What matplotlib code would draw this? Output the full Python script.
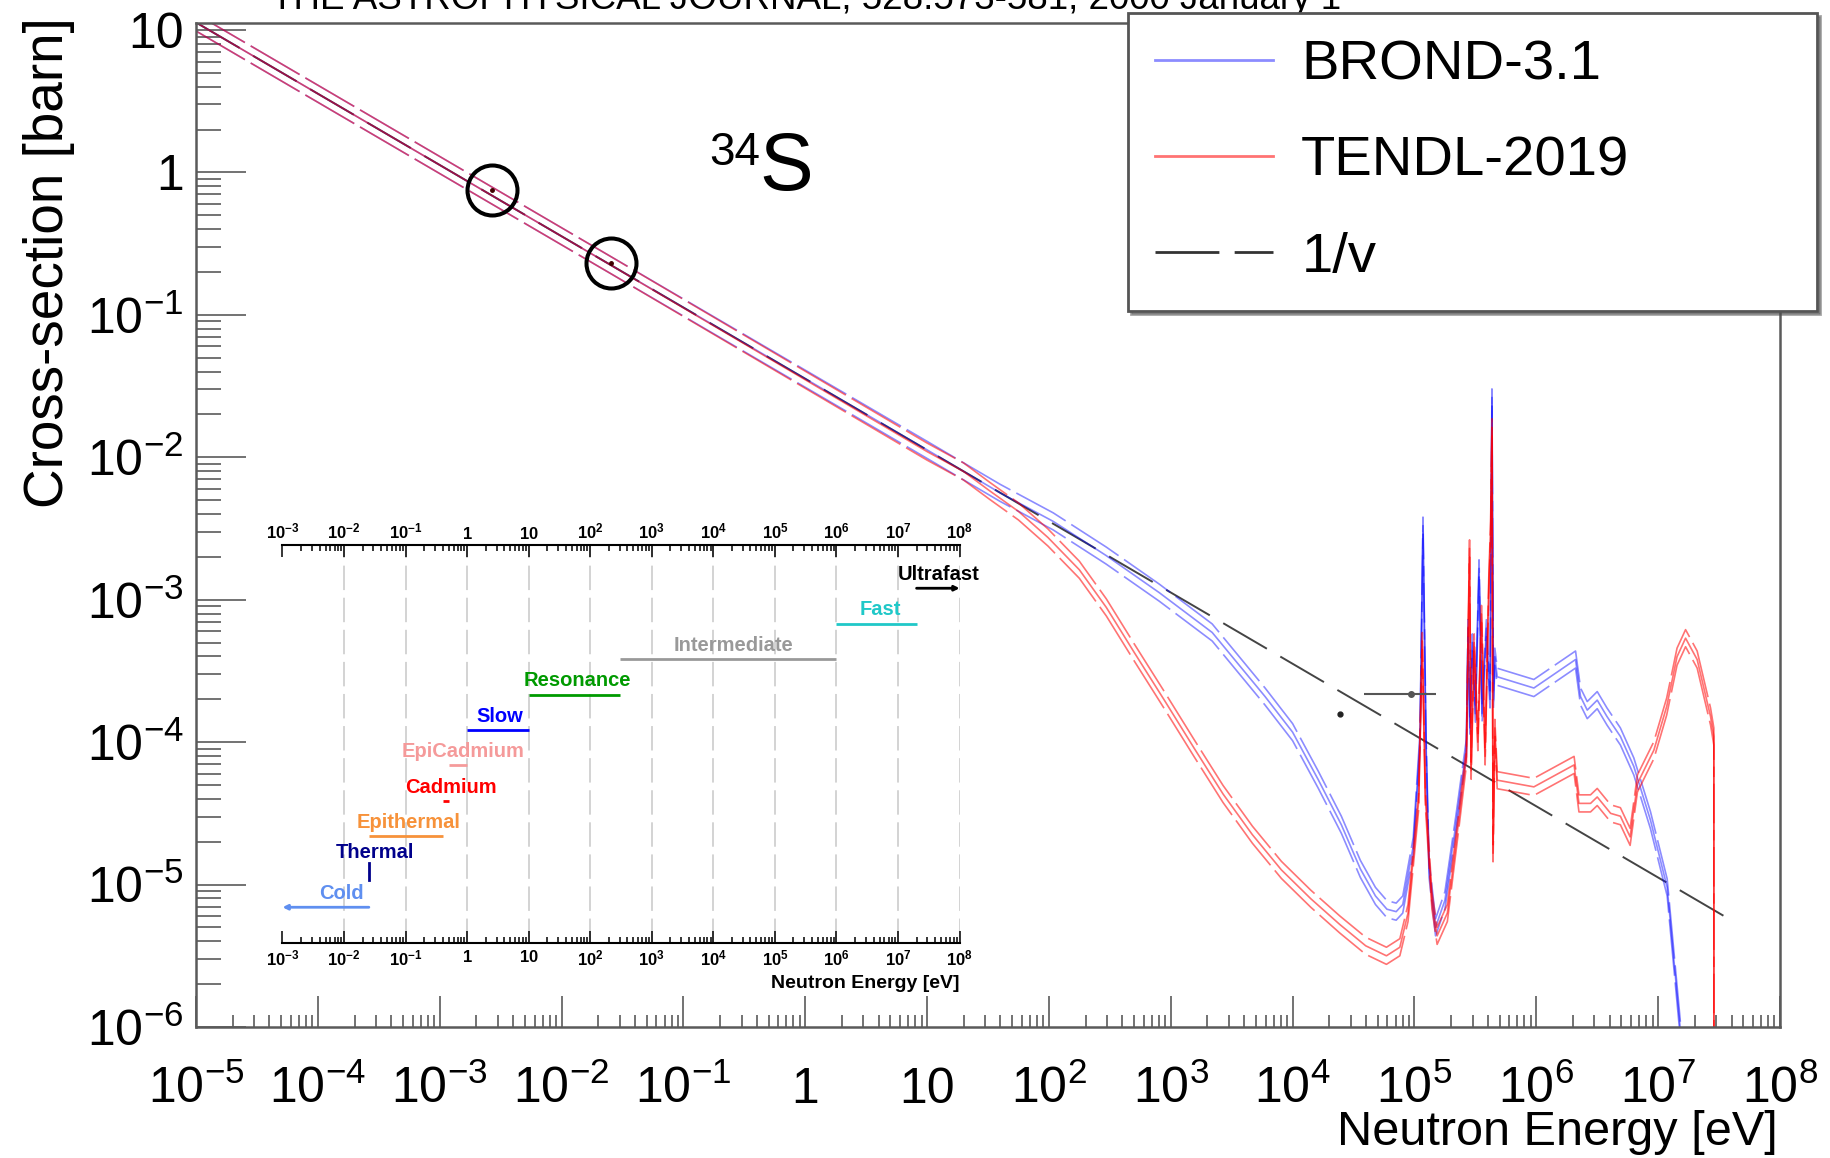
import numpy as np
import matplotlib
matplotlib.use("Agg")
import matplotlib.pyplot as plt
from matplotlib.lines import Line2D
from matplotlib.ticker import LogLocator, FuncFormatter, NullFormatter

plt.rcParams['font.family'] = ['Liberation Sans', 'DejaVu Sans']
plt.rcParams['mathtext.fontset'] = 'custom'
plt.rcParams['mathtext.rm'] = 'Liberation Sans'
plt.rcParams['mathtext.it'] = 'Liberation Sans:italic'
plt.rcParams['mathtext.bf'] = 'Liberation Sans:bold'
plt.rcParams['mathtext.sf'] = 'Liberation Sans'

brond_logE = [-5.0, -1.597, 1.0, 1.6, 2.035, 2.47, 2.905, 3.34, 3.774, 4.0, 4.21, 4.4,
              4.556, 4.68, 4.774, 4.85, 4.904, 4.99, 5.045, 5.07, 5.095, 5.12, 5.173,
              5.25, 5.34, 5.426, 5.44, 5.455, 5.475, 5.50, 5.53, 5.555, 5.59, 5.62,
              5.636, 5.648, 5.66, 5.679, 5.98, 6.322, 6.363, 6.418, 6.50, 6.58, 6.69,
              6.80, 6.937, 7.074, 7.18, 7.22]
brond_logxs = [1.053, -0.65, -1.948, -2.25, -2.45, -2.69, -2.95, -3.23, -3.68, -3.93,
               -4.263, -4.58, -4.89, -5.08, -5.173, -5.19, -5.14, -4.73, -4.0, -2.48,
               -4.0, -4.89, -5.30, -5.11, -4.576, -4.04, -3.2, -3.9, -3.3, -3.8, -2.78,
               -3.8, -3.2, -3.7, -1.58, -3.7, -3.4, -3.541, -3.62, -3.42, -3.68, -3.775,
               -3.705, -3.82, -3.96, -4.17, -4.548, -5.02, -6.0, -6.5]

tendl_logE = [-5.0, -1.597, 1.0, 1.3, 1.513, 1.75, 1.992, 2.25, 2.471, 2.70, 2.95, 3.19,
              3.429, 3.67, 3.908, 4.15, 4.387, 4.6, 4.77, 4.88, 4.947, 5.034, 5.064, 5.09,
              5.143, 5.186, 5.27, 5.36, 5.426, 5.44, 5.452, 5.465, 5.49, 5.52, 5.55,
              5.58, 5.61, 5.625, 5.636, 5.645, 5.66, 5.679, 5.98, 6.31, 6.35, 6.445,
              6.50, 6.61, 6.69, 6.77, 6.83, 6.965, 7.07, 7.155, 7.225, 7.32, 7.43,
              7.457, 7.458]
tendl_logxs = [1.053, -0.65, -1.96, -2.10, -2.235, -2.38, -2.563, -2.79, -3.054, -3.37,
               -3.709, -4.04, -4.364, -4.65, -4.897, -5.10, -5.28, -5.43, -5.50, -5.44,
               -5.20, -4.42, -3.29, -4.4, -5.11, -5.36, -5.20, -4.576, -4.105, -3.3,
               -2.64, -4.2, -3.3, -4.0, -3.1, -4.1, -2.9, -2.51, -1.79, -4.78, -3.9,
               -4.267, -4.314, -4.16, -4.43, -4.43, -4.385, -4.50, -4.52, -4.665, -4.29,
               -4.056, -3.75, -3.40, -3.27, -3.42, -3.82, -3.96, -7.0]

# half width of the uncertainty lines drawn above / below each curve (dex)
band_dex = 0.06

onev_energy = [1e-5, 4.0e7]
onev_xs = [11.3, 5.6e-6]

circle_energy = [2.68e-3, 0.0253]
circle_xs = [0.75, 0.23]

dot_energy = [2.44e4]
dot_xs = [1.58e-4]
bar_energy = [9.3e4]
bar_xs = [2.17e-4]
bar_elow = [3.84e4]
bar_ehigh = [1.49e5]

# inset: neutron energy classification
region_names = ['Cold', 'Thermal', 'Epithermal', 'Cadmium', 'EpiCadmium', 'Slow',
                'Resonance', 'Intermediate', 'Fast', 'Ultrafast']
region_lo = [1e-3, 0.0253, 0.0253, 0.4, 0.5, 1.0, 10.0, 300.0, 1e6, 2e7]
region_hi = [0.0253, 0.0253, 0.4, 0.5, 1.0, 10.0, 300.0, 1e6, 2e7, 1e8]
region_colors = ['#5f8ff0', '#00008b', '#f7923a', '#ff0000', '#f59a9a', '#0000ff',
                 '#009a00', '#999999', '#20c8c8', '#000000']
label_logx = [-2.04, -1.50, -0.955, -0.256, -0.072, 0.522, 1.793, 4.324, 6.71, 7.666]

W, H = 1830, 1158
fig = plt.figure(figsize=(W / 100, H / 100), dpi=100)
ax = fig.add_axes([196 / W, 1 - 1027 / H, (1780 - 196) / W, (1027 - 23) / H])
ax.set_xscale('log')
ax.set_yscale('log')
ax.set_xlim(1e-5, 1e8)
ax.set_ylim(1e-6, 11.2)

blue_c = (0.0, 0.0, 1.0, 0.45)
red_c = (1.0, 0.0, 0.0, 0.55)
for logE, logxs, col in [(brond_logE, brond_logxs, blue_c), (tendl_logE, tendl_logxs, red_c)]:
    e = 10.0 ** np.array(logE)
    xs = np.array(logxs)
    ax.plot(e, 10.0 ** xs, color=col, lw=1.2, zorder=2)
    ax.plot(e, 10.0 ** (xs + band_dex), color=col, lw=1.2, dashes=(34, 4), zorder=2)
    ax.plot(e, 10.0 ** (xs - band_dex), color=col, lw=1.2, dashes=(34, 4), zorder=2)

ax.plot(onev_energy, onev_xs, color='#444444', lw=1.4, dashes=(26, 8), zorder=1.5)

ax.plot(circle_energy, circle_xs, 'o', mfc='none', mec='black', ms=36, mew=2.9, zorder=4)
ax.plot(circle_energy, circle_xs, 'o', ms=2.5, color='#400000', zorder=4)
ax.plot(dot_energy, dot_xs, 'o', ms=3.5, color='#222222', zorder=4)
ax.errorbar(bar_energy, bar_xs,
            xerr=[np.array(bar_energy) - np.array(bar_elow), np.array(bar_ehigh) - np.array(bar_energy)],
            fmt='o', ms=4, color='#555555', lw=1.5, capsize=0, zorder=4)


def pow10_label(v, pos):
    p = int(round(np.log10(v)))
    if p == 0:
        return '1'
    if p == 1:
        return '10'
    return r'$10^{%d}$' % p


def pow10_bold(v, pos):
    p = int(round(np.log10(v)))
    if p == 0:
        return r'$\mathbf{1}$'
    if p == 1:
        return r'$\mathbf{10}$'
    return r'$\mathbf{10^{%d}}$' % p


for axis in (ax.xaxis, ax.yaxis):
    axis.set_major_locator(LogLocator(base=10, numticks=30))
    axis.set_minor_locator(LogLocator(base=10, subs=np.arange(2, 10), numticks=30))
    axis.set_major_formatter(FuncFormatter(pow10_label))
    axis.set_minor_formatter(NullFormatter())

spine_c = '#5a5a5a'
for s in ax.spines.values():
    s.set_color(spine_c)
    s.set_linewidth(1.8)
ax.tick_params(which='both', direction='in', top=False, right=False, color=spine_c,
               width=1.2, labelsize=36)
ax.tick_params(axis='x', which='major', length=22, pad=54.5)
ax.tick_params(axis='x', which='minor', length=9)
ax.tick_params(axis='y', which='major', length=36, pad=9)
ax.tick_params(axis='y', which='minor', length=18)
for t in ax.xaxis.get_major_ticks():
    t.label1.set_va('baseline')

fig.text(49 / W, 1 - 17 / H, 'Cross-section [barn]', rotation=90, ha='center', va='top',
         fontsize=39.5)
fig.text(1778 / W, 1 - 1145 / H, 'Neutron Energy [eV]', ha='right', va='baseline',
         fontsize=35)
fig.text(271 / W, 1 - 9 / H, 'THE ASTROPHYSICAL JOURNAL, 528:573-581, 2000 January 1',
         ha='left', va='baseline', fontsize=26.5)
fig.text(709 / W, 1 - 165 / H, '34', ha='left', va='baseline', fontsize=33)
fig.text(759 / W, 1 - 190 / H, 'S', ha='left', va='baseline', fontsize=58)

handles = [Line2D([], [], color=blue_c, lw=2),
           Line2D([], [], color=red_c, lw=2),
           Line2D([], [], color='#333333', lw=2, dashes=(23, 5.5))]
leg = fig.legend(handles, ['BROND-3.1', 'TENDL-2019', '1/v'], loc='upper left',
                 bbox_to_anchor=(1128 / W, 1 - 313 / H, 689 / W, 300 / H), mode='expand',
                 borderaxespad=0, fontsize=40.5, handlelength=2.1, handletextpad=0.5,
                 labelspacing=0.78, borderpad=0.48, fancybox=False, shadow=True,
                 framealpha=1)
leg.get_frame().set_edgecolor('#555555')
leg.get_frame().set_linewidth(2)

# inset with the energy classes
ins = fig.add_axes([282.5 / W, 1 - 942.7 / H, (959.6 - 282.5) / W, (942.7 - 545) / H])
ins.set_facecolor('white')
ins.set_xscale('log')
ins.set_xlim(1e-3, 1e8)
ins.set_ylim(0, 11.22)
ins.xaxis.set_major_locator(LogLocator(base=10, numticks=30))
ins.xaxis.set_minor_locator(LogLocator(base=10, subs=np.arange(2, 10), numticks=30))
ins.xaxis.set_major_formatter(FuncFormatter(pow10_bold))
ins.xaxis.set_minor_formatter(NullFormatter())
ins.yaxis.set_visible(False)
ins.spines['left'].set_visible(False)
ins.spines['right'].set_visible(False)
for side in ('top', 'bottom'):
    ins.spines[side].set_linewidth(1.5)
ins.tick_params(axis='x', which='both', direction='in', top=True, bottom=True,
                labeltop=True, labelbottom=True, labelsize=12, pad=4.5, width=1.1)
ins.tick_params(axis='x', which='major', length=8.6)
ins.tick_params(axis='x', which='minor', length=4.3)
ins.grid(True, axis='x', which='major', color='#c8c8c8', lw=1.1, ls=(0, (16, 5)))
ins.set_axisbelow(True)

for k, (name, lo, hi, col, lx) in enumerate(zip(region_names, region_lo, region_hi,
                                                region_colors, label_logx), start=1):
    if name == 'Thermal':
        ins.plot([lo, hi], [k - 0.235, k + 0.235], color=col, lw=2)
        ty = k + 0.55
    elif name == 'Cold':
        ins.annotate('', xy=(lo, k), xytext=(hi, k),
                     arrowprops=dict(arrowstyle='-|>', color=col, lw=2, mutation_scale=7,
                                     shrinkA=0, shrinkB=0))
        ty = k + 0.39
    elif name == 'Ultrafast':
        ins.annotate('', xy=(hi, k), xytext=(lo, k),
                     arrowprops=dict(arrowstyle='-|>', color=col, lw=2, mutation_scale=7,
                                     shrinkA=0, shrinkB=0))
        ty = k + 0.39
    else:
        ins.plot([lo, hi], [k, k], color=col, lw=2, solid_capstyle='butt')
        ty = k + 0.39
    ins.text(10.0 ** lx, ty, name, color=col, fontsize=14.5, fontweight='bold',
             ha='center', va='center')

ins.text(1.0, -(988 - 942.7) / (942.7 - 545), 'Neutron Energy [eV]', transform=ins.transAxes,
         ha='right', va='baseline', fontsize=14, fontweight='bold')

for t in ins.xaxis.get_major_ticks():
    t.label2.set_va('baseline')

fig.savefig('out.png', dpi=100, facecolor='white')
